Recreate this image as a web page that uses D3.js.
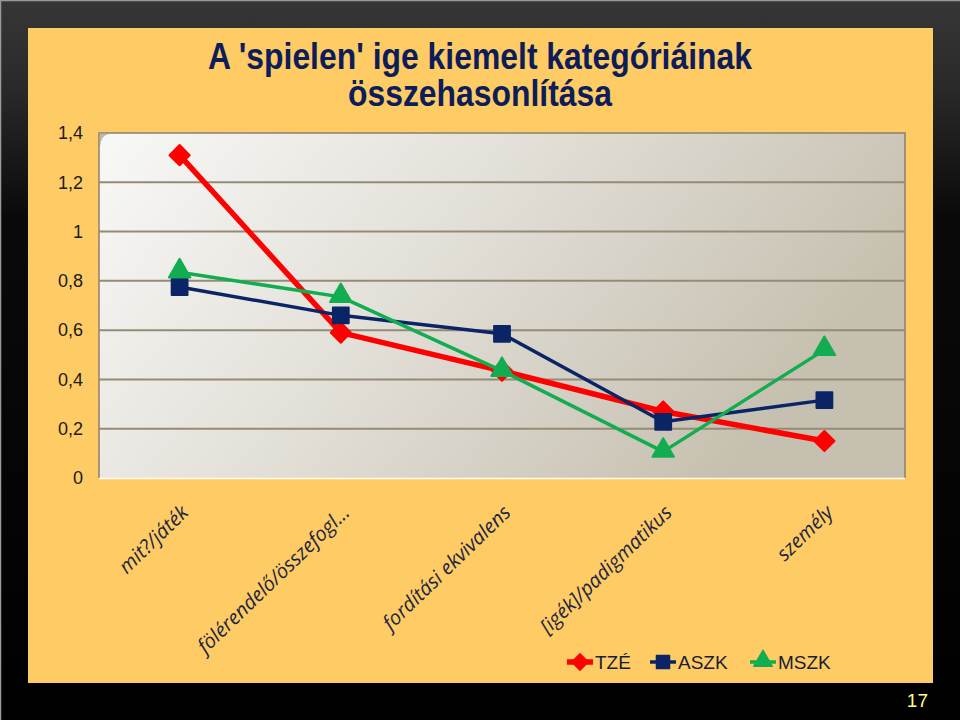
<!DOCTYPE html>
<html><head><meta charset="utf-8">
<script src="https://cdn.jsdelivr.net/npm/d3@7/dist/d3.min.js"></script>
<style>html,body{margin:0;padding:0;background:#000;}svg{display:block;}</style>
</head><body>
<script>
const categories = ["mit?/játék","fölérendelő/összefogl...","fordítási ekvivalens","[igék]/padigmatikus","személy"];
const seriesNames = ["TZÉ","ASZK","MSZK"];
const tzeValues  = [1.31, 0.59, 0.435, 0.27, 0.15];
const aszkValues = [0.775, 0.66, 0.585, 0.228, 0.316];
const mszkValues = [0.835, 0.735, 0.435, 0.107, 0.52];
const yTicks = [0, 0.2, 0.4, 0.6, 0.8, 1, 1.2, 1.4];
const titleLines = ["A 'spielen' ige kiemelt kategóriáinak", "összehasonlítása"];
const pageNumber = "17";

const W = 960, H = 720;
const svg = d3.select("body").append("svg").attr("width", W).attr("height", H);
const defs = svg.append("defs");

const bg = defs.append("linearGradient").attr("id","bg").attr("x1",0).attr("y1",0).attr("x2",0).attr("y2",1);
bg.append("stop").attr("offset","0").attr("stop-color","#363636");
bg.append("stop").attr("offset","0.12").attr("stop-color","#2a2a2a");
bg.append("stop").attr("offset","0.3").attr("stop-color","#0a0a0a");
bg.append("stop").attr("offset","1").attr("stop-color","#000");
svg.append("rect").attr("width",W).attr("height",H).attr("fill","url(#bg)");
svg.append("path").attr("d","M0.5,720 V0.5 H960").attr("fill","none").attr("stroke","#9a9a9a").attr("stroke-width",1.5);

// yellow panel
svg.append("rect").attr("x",28).attr("y",28).attr("width",905).attr("height",655).attr("fill","#FECB65");

// title
const titleG = svg.append("g").attr("fill","#0c1d5a").attr("font-family","'Liberation Sans Narrow','Liberation Sans',Arial,sans-serif").attr("font-weight","bold").attr("font-size",36).attr("text-anchor","middle");
titleG.append("text").attr("x",480).attr("y",69).attr("textLength",544).attr("lengthAdjust","spacingAndGlyphs").text(titleLines[0]);
titleG.append("text").attr("x",480).attr("y",106).attr("textLength",264).attr("lengthAdjust","spacingAndGlyphs").text(titleLines[1]);

// plot area
const px0 = 99, px1 = 905, py0 = 133, py1 = 478;
const x = d3.scaleBand().domain(categories).range([px0, px1]);
const y = d3.scaleLinear().domain([0, 1.4]).range([py1, py0]);

const pg = defs.append("linearGradient").attr("id","pg").attr("x1",0).attr("y1",0).attr("x2",1).attr("y2",0.35);
pg.append("stop").attr("offset","0").attr("stop-color","#f8f8f6");
pg.append("stop").attr("offset","0.45").attr("stop-color","#e4e1da");
pg.append("stop").attr("offset","1").attr("stop-color","#c6c0b0");
svg.append("rect").attr("x",px0).attr("y",py0).attr("width",px1-px0).attr("height",py1-py0).attr("fill","url(#pg)");
// borders
svg.append("path").attr("d",`M${px0},${py1} V${py0} H${px1} V${py1}`).attr("fill","none").attr("stroke","#8a806e").attr("stroke-width",1.5);
svg.append("line").attr("x1",px0).attr("x2",px1).attr("y1",py1+0.5).attr("y2",py1+0.5).attr("stroke","#fffaf0").attr("stroke-width",1.5);
// curled corner
svg.append("path").attr("d",`M${px0+1},${py0+14} Q${px0+2},${py0+2} ${px0+10},${py0+1} L${px0+1},${py0+1} Z`).attr("fill","#bdb8ae");

// gridlines
svg.append("g").selectAll("line").data(yTicks.filter(t => t > 0 && t < 1.4)).join("line")
  .attr("x1",px0).attr("x2",px1).attr("y1",d=>y(d)).attr("y2",d=>y(d))
  .attr("stroke","#968a76").attr("stroke-width",2);

// y axis
const yAxis = d3.axisLeft(y).tickValues(yTicks).tickSize(0).tickPadding(16)
  .tickFormat(d => String(d).replace(".", ","));
const ya = svg.append("g").attr("transform",`translate(${px0},0)`).call(yAxis);
ya.select(".domain").remove();
ya.selectAll("text").attr("font-family","'Liberation Sans',Arial,sans-serif").attr("font-size",18).attr("fill","#1a1a1a");

// x axis labels
svg.append("g").selectAll("text").data(categories).join("text")
  .attr("transform", d => `translate(${x(d)+x.bandwidth()/2+10},${514}) rotate(-44)`)
  .attr("text-anchor","end")
  .attr("font-family","'Open Sans','DejaVu Sans',sans-serif").attr("font-style","italic").attr("font-size",20)
  .attr("fill","#1c2540")
  .text(d => d);

// series
const series = [
  {name: seriesNames[0], values: tzeValues, color: "#ff0000", width: 5.5, marker: "diamond"},
  {name: seriesNames[1], values: aszkValues, color: "#0b2466", width: 3.5, marker: "square"},
  {name: seriesNames[2], values: mszkValues, color: "#12ad50", width: 3.5, marker: "triangle"}
];
const symbolPath = {
  diamond: d3.symbol().type(d3.symbolDiamond2).size(260),
  square: d3.symbol().type(d3.symbolSquare).size(250),
  triangle: d3.symbol().type(d3.symbolTriangle).size(200)
};
const line = d3.line().x((d,i) => x(categories[i]) + x.bandwidth()/2).y(d => y(d));
series.forEach(s => {
  const g = svg.append("g");
  g.append("path").attr("d", line(s.values)).attr("fill","none").attr("stroke",s.color)
    .attr("stroke-width",s.width).attr("stroke-linejoin","round");
  g.selectAll("path.m").data(s.values).join("path").attr("class","m")
    .attr("transform",(d,i) => `translate(${x(categories[i]) + x.bandwidth()/2},${y(d)})${s.marker==="triangle"?" translate(0,-1)":""}`)
    .attr("d", symbolPath[s.marker]()).attr("fill",s.color).attr("stroke",s.color)
    .attr("stroke-width",2).attr("stroke-linejoin","round");
});

// legend
const legendX = [567, 650, 750];
const lg = svg.append("g");
series.forEach((s,i) => {
  const g = lg.append("g").attr("transform",`translate(${legendX[i]},662)`);
  g.append("line").attr("x1",0).attr("x2",26).attr("y1",0).attr("y2",0).attr("stroke",s.color).attr("stroke-width",s.width);
  const sym = d3.symbol().type(s.marker==="diamond"?d3.symbolDiamond2:s.marker==="square"?d3.symbolSquare:d3.symbolTriangle)
     .size(s.marker==="diamond"?170:s.marker==="square"?170:150);
  g.append("path").attr("transform",`translate(13,${s.marker==="triangle"?-1:0})`).attr("d",sym()).attr("fill",s.color).attr("stroke",s.color).attr("stroke-width",1.5).attr("stroke-linejoin","round");
  g.append("text").attr("x",28).attr("y",7).attr("font-family","'Liberation Sans',Arial,sans-serif").attr("font-size",19)
    .attr("fill","#1a1d33").text(s.name);
});

// page number
svg.append("text").attr("x",928).attr("y",707).attr("text-anchor","end").attr("font-family","'Liberation Sans',Arial,sans-serif")
  .attr("font-size",19).attr("fill","#ffff88").text(pageNumber);
</script>
</body></html>
